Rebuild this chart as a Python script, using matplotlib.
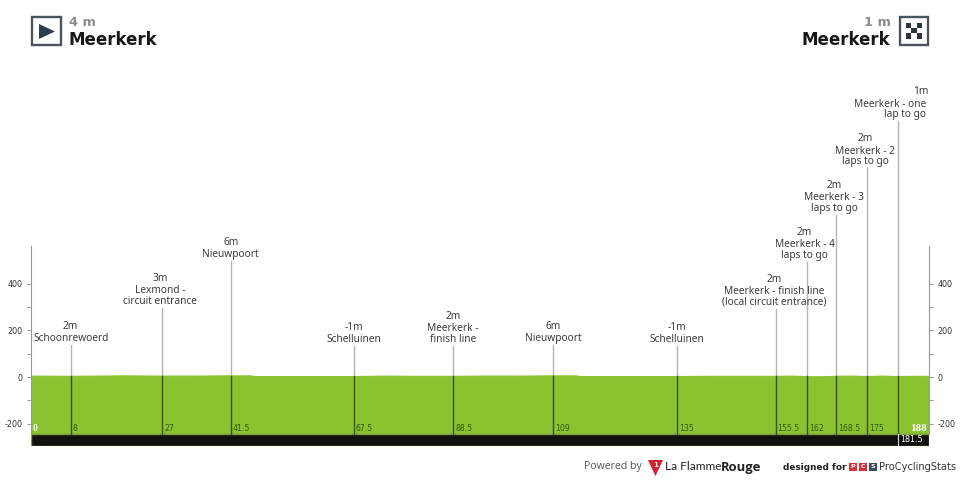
import numpy as np
from matplotlib import pyplot as plt
from matplotlib.patches import Rectangle, Polygon

plt.rcParams['axes.unicode_minus'] = False

# profile, km vs metres
profile_km = [0, 8, 14, 20, 27, 34, 41.5, 46, 47, 53, 60, 67.5, 74, 81, 88.5, 95, 102, 109, 114, 115, 122, 128, 135,
              142, 149, 155.5, 159, 162, 165, 168.5, 172, 175, 178, 181.5, 185, 188]
profile_m = [6, 5, 6, 7, 6, 6, 7, 7, 4, 4, 4, 4, 6, 5, 5, 6, 6, 7, 7, 4, 4, 4, 4,
             5, 5, 5, 6, 4, 3, 5, 6, 4, 6, 4, 5, 5]

# places along the route
place_km = [8.4, 27.5, 41.9, 67.65, 88.45, 109.3, 135.2, 155.9, 162.4, 168.6, 175.1, 181.5]
place_top = [139, 297, 498, 135, 135, 139, 135, 293, 494, 695, 896, 1097]
place_alt = ['2m', '3m', '6m', '-1m', '2m', '6m', '-1m', '2m', '2m', '2m', '2m', '1m']
place_name = ['Schoonrewoerd', 'Lexmond -\ncircuit entrance', 'Nieuwpoort', 'Schelluinen', 'Meerkerk -\nfinish line',
              'Nieuwpoort', 'Schelluinen', 'Meerkerk - finish line\n(local circuit entrance)', 'Meerkerk - 4\nlaps to go',
              'Meerkerk - 3\nlaps to go', 'Meerkerk - 2\nlaps to go', 'Meerkerk - one\nlap to go']
place_tick = ['8', '27', '41.5', '67.5', '88.5', '109', '135', '155.5', '162', '168.5', '175', '181.5']
name_dx = [0, -2, 0, 0, 0, 0, 0, -1, -2, -2, -2, 0]

y_major = [400, 200, 0, -200]
y_minor = [300, 100, -100]

FONT = 'Noto Sans'
FS = 7.3
GREEN = '#8ac230'
DARK = '#3b4f22'
GREY = '#b5b5b5'
TEXT = '#3c3c3c'

fig = plt.figure(figsize=(9.6, 4.8), dpi=100)
W, H = 960, 480
left, right, top, bottom = 30.5, 929, 246, 446
ax = fig.add_axes([left / W, 1 - bottom / H, (right - left) / W, (bottom - top) / H])
ax.set_xlim(0, 188)
ax.set_ylim(-296, 562)
ax.patch.set_alpha(0)

ax.fill_between(profile_km, -245, profile_m, color=GREEN, lw=0.8, zorder=2)

# black km band
ax.add_patch(Rectangle((0, -296), 188, 51, fc='#111111', ec='#7f9a3c', lw=1, zorder=3))

# vertical place lines
for km, t in zip(place_km, place_top):
    ax.plot([km, km], [0, t], color=GREY, lw=1.0, zorder=1, clip_on=False)
    ax.plot([km, km], [-245, 4], color=DARK, lw=1.0, zorder=3)

for i, km in enumerate(place_km):
    dx = name_dx[i]
    last = i == len(place_km) - 1
    n_lines = place_name[i].count('\n') + 1
    if last:
        ax.annotate(place_name[i], (km, place_top[i]), xytext=(28, 1), textcoords='offset pixels', ha='right', va='bottom',
                    fontsize=FS, family=FONT, color=TEXT, linespacing=0.95, annotation_clip=False)
        ax.annotate(place_alt[i], (km, place_top[i]), xytext=(31, 24), textcoords='offset pixels', ha='right', va='bottom',
                    fontsize=FS, family=FONT, color=TEXT, annotation_clip=False)
    else:
        ax.annotate(place_name[i], (km, place_top[i]), xytext=(dx, 1), textcoords='offset pixels', ha='center', va='bottom',
                    fontsize=FS, family=FONT, color=TEXT, linespacing=0.95, annotation_clip=False)
        ax.annotate(place_alt[i], (km, place_top[i]), xytext=(dx, 2 + 11 * n_lines), textcoords='offset pixels', ha='center', va='bottom',
                    fontsize=FS, family=FONT, color=TEXT, annotation_clip=False)

    if last:
        ax.plot([km, km], [-296, -245], color='#dddddd', lw=0.8, zorder=4)
        ax.annotate(place_tick[i], (km, -270), xytext=(2, 0), textcoords='offset pixels', ha='left', va='center',
                    fontsize=5.8, color='white', zorder=5)
    else:
        ax.annotate(place_tick[i], (km, -223), xytext=(2, 0), textcoords='offset pixels', ha='left', va='center',
                    fontsize=5.6, color='#2f5a10', zorder=5)

ax.text(0.4, -223, '0', color='white', fontsize=7, family='Liberation Serif', weight='bold', va='center', zorder=5)
ax.text(187.5, -223, '188', color='white', fontsize=8, family='Liberation Serif', weight='bold', ha='right', va='center', zorder=5)

# y axis on both sides
for side in ['top', 'bottom']:
    ax.spines[side].set_visible(False)
for side in ['left', 'right']:
    ax.spines[side].set_color('#999999')
    ax.spines[side].set_linewidth(0.8)
    ax.spines[side].set_bounds(-245, 562)
ax.set_xticks([])
ax.set_yticks(y_major)
ax.set_yticks(y_minor, minor=True)
ax.tick_params(axis='y', which='both', left=True, right=True, labelleft=True, labelright=True,
               length=3, width=0.7, color='#999999', labelsize=5.8, labelcolor='#333333', pad=3)

# header and footer drawn in pixel coordinates
ov = fig.add_axes([0, 0, 1, 1])
ov.set_xlim(0, W)
ov.set_ylim(H, 0)
ov.axis('off')
ov.patch.set_alpha(0)

ov.add_patch(Rectangle((32, 16.5), 28.5, 28.5, fc='white', ec='#4a5560', lw=1.7))
ov.add_patch(Polygon([(39, 24), (39, 39), (55, 31.5)], fc='#2c3e50'))
ov.text(69, 29, '4 m', fontsize=9.3, weight='bold', color='#8c8c8c', va='bottom')
ov.text(69, 49, 'Meerkerk', fontsize=12, weight='bold', color='#181818', va='bottom')

ov.add_patch(Rectangle((899.5, 16.5), 28.5, 28.5, fc='white', ec='#4a5560', lw=1.7))
for r in range(3):
    for c in range(3):
        if (r + c) % 2 == 0:
            ov.add_patch(Rectangle((906 + c * 5.4, 23 + r * 5.2), 5.4, 5.2, fc='#2c3440', lw=0))
ov.text(890.5, 29, '1 m', fontsize=9.3, weight='bold', color='#8c8c8c', ha='right', va='bottom')
ov.text(890.5, 49, 'Meerkerk', fontsize=12, weight='bold', color='#181818', ha='right', va='bottom')

ov.text(584, 467, 'Powered by', fontsize=7.6, family='Open Sans', color='#555555', va='center')
ov.add_patch(Polygon([(648, 460), (663, 460), (655.5, 476)], fc='#d4202c'))
ov.text(655.5, 465, '1', fontsize=5, color='white', ha='center', va='center', weight='bold')
ov.text(665, 467, 'La Flamme', fontsize=8.6, family='Lato', color='#222222', va='center')
ov.text(721, 467, 'Rouge', fontsize=9.4, family='Open Sans', weight='bold', color='#222222', va='center')
ov.text(783, 467, 'designed for', fontsize=6.4, weight='bold', color='#222222', va='center')
for x0, c, t in [(848.5, '#d9303a', 'P'), (858.5, '#d9303a', 'C'), (868.5, '#3c4a5c', 'S')]:
    ov.add_patch(Rectangle((x0, 463), 8.5, 8, fc=c, lw=0))
    ov.text(x0 + 4.2, 467, t, fontsize=4.5, weight='bold', color='white', ha='center', va='center')
ov.text(879, 467, 'ProCyclingStats', fontsize=7.1, color='#333333', va='center')

fig.savefig('out.png', dpi=100)
